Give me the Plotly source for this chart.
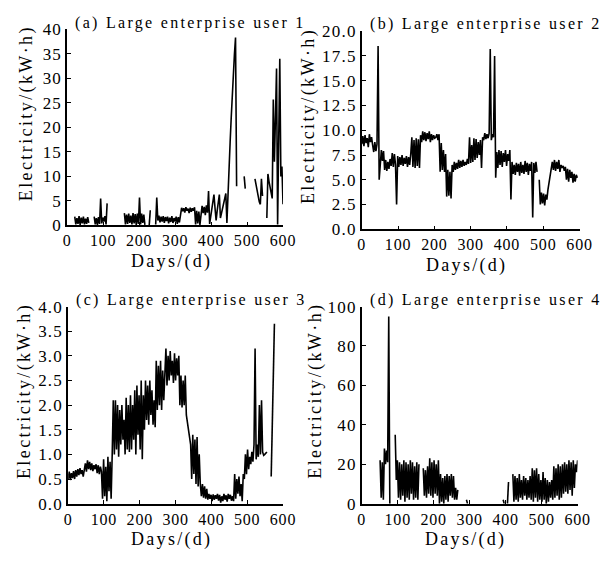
import plotly.graph_objects as go

# daily electricity, sampled every 3 days from day 0 to day 600 (None = missing)
DAY_STEP = 3

user1 = [
    None, None, None, None, None, None, None,
    1.8, 0.2, 1.5, 0.3, 1.9, 0.1, 1.6, 0.4, 1.8, 0.2, 1.4, 0.3, 1.7, 0.5,
    None, None, None, None,
    1.8, 0.2, 1.5, 0.1, 1.7, 0.3, 5.5, 0.4, 1.6, 0.8, 1.9, 0.2, 4.5,
    None, None, None, None, None, None, None, None, None, None, None, None, None, None, None,
    2.5, 0.2, 2.2, 0.3, 2.4, 0.5, 2.0, 0.2, 2.5, 0.4, 2.3, 0.1, 2.4, 0.3, 5.7, 0.2, 2.4, 0.5, 2.2, 0.1,
    None, None, None,
    0.0, 3.1,
    None, None, None, None,
    0.2, 5.7,
    1.0, 2.0, 0.6, 1.8, 0.8, 1.9, 0.5, 1.7, 0.9, 1.8, 0.4, 1.6, 0.7, 1.9, 0.5, 1.5, 0.8, 1.8, 0.3, 1.7, 0.6,
    2.7, 3.6, 2.9, 3.5, 2.6, 3.7, 3.0, 3.4, 2.5, 3.6, 2.8, 3.5, 3.0, 3.7,
    0.2, 3.0, 0.4, 2.8, 0.1,
    2.2, 4.0, 2.5, 3.8, 2.1, 4.1, 2.6, 7.0,
    0.3, 2.0, 3.5, 5.0, 6.3, 3.5, 1.0, 3.0, 5.0, 6.3, 1.5, 2.5, 3.8, 4.8, 5.8, 6.5, 0.5,
    7.5, 12.0, 17.0, 22.0, 27.0, 31.0, 35.0, 38.3, 8.0,
    None, None, None, None, None, None,
    10.0, 7.5,
    None, None, None, None, None, None, None, None,
    9.5, 8.2, 7.0, 5.8, 4.8, 4.3, 9.5, 6.0,
    None, None, None,
    1.5, 10.5, 9.0, 7.5, 6.5, 5.5, 25.7, 13.0, 22.0, 32.0, 0.2, 20.0, 34.0, 10.0, 12.0, 4.3,
]

user2 = [
    8.6, 9.4, 8.4, 9.5, 8.7, 9.2, 8.3, 9.6, 8.8, 9.3, 8.5,
    7.8, 8.8, 7.9, 8.6,
    18.5, 5.0,
    7.2, 8.0, 6.9, 7.9,
    6.0, 7.0, 5.9, 6.8, 6.1, 7.1,
    6.4, 7.7, 6.3, 7.6, 6.5,
    2.5,
    7.4, 6.3, 7.3, 6.5, 7.5, 6.4, 7.2, 6.6, 7.4, 6.3, 7.3, 6.5, 7.6,
    9.3, 6.3, 9.0, 6.2, 9.2, 6.4, 9.1,
    6.2,
    9.5, 8.8, 9.9, 9.0, 9.8, 8.9, 9.7, 9.1, 9.9, 8.8, 9.6, 9.0, 9.5, 9.2, 9.3, 9.6, 9.0, 9.6,
    5.8, 8.7, 6.0,
    8.0, 5.8, 7.6,
    3.3, 6.0, 3.4, 5.8, 3.1,
    6.5, 5.8, 6.8, 6.0, 6.7, 6.1, 7.0, 6.2, 6.9, 6.3, 7.0, 6.4, 6.8, 6.5, 7.1, 6.6,
    9.3, 6.7, 8.5, 6.8, 9.2,
    7.0, 9.1, 7.2, 8.8, 7.5, 9.0, 6.2, 9.3,
    9.0, 9.7, 9.1, 9.6, 9.2, 9.7, 18.2, 9.0, 9.6, 9.3,
    17.5, 5.2,
    7.8, 6.2, 8.0, 6.5, 7.9, 6.3, 7.7, 6.8, 8.0, 6.4, 7.6, 6.9, 8.0,
    3.0,
    6.8, 5.6, 6.5, 5.5, 6.7, 5.8, 6.6, 5.4, 6.8, 5.7, 6.5, 5.6, 6.9, 5.8, 6.7, 5.5, 6.6, 5.9, 6.8,
    1.2, 6.7, 5.7, 6.8,
    5.8, None,
    5.0, 2.5, 3.7, 2.6, 3.6, 2.4, 3.5,
    3.0, 4.0, 4.8, 5.6, 6.2, 6.8,
    6.0, 7.0, 5.9, 6.8, 6.1, 7.0, 5.8, 6.5, 6.2, 6.4, 5.9, 6.3,
    5.0, 6.1, 4.8, 6.0, 5.2, 5.8, 4.7, 5.6, 4.8, 5.5, 5.2,
    None, None,
]

user3 = [
    0.50, 0.65, 0.48, 0.62, 0.52, 0.66, 0.50, 0.68, 0.55, 0.70, 0.58, 0.72, 0.60, 0.68, 0.55, 0.75,
    0.82, 0.65, 0.88, 0.70, 0.85, 0.68, 0.82, 0.66, 0.78, 0.70, 0.80,
    0.62, 0.78, 0.60, 0.75, 0.65,
    0.10, 0.90, 0.15, 0.75, 0.05, 0.95, 0.25, 0.85, 0.10,
    1.00, 2.10,
    1.00, 2.10, 1.10, 2.00, 0.95, 1.90, 1.20, 2.00, 1.30, 1.70, 1.00, 2.15, 1.10, 2.00,
    1.05, 2.20, 1.10, 2.00, 1.30, 2.30, 1.00, 2.40, 1.40, 2.20, 1.10, 2.50, 0.90,
    2.20, 1.50, 2.50, 1.70, 2.40, 1.60, 2.50, 1.80, 2.30, 1.60, 2.10, 1.55,
    2.90, 1.90, 2.80, 2.00, 2.90, 1.90, 2.70, 2.10, 2.60,
    3.15, 2.40, 3.00, 2.50, 3.10, 2.60, 2.90, 2.45, 3.05, 2.50, 2.95, 2.60, 3.00,
    2.00, 2.60, 1.95, 2.50, 2.00, 2.60,
    1.80, 1.65, 1.50, 1.35, 1.20,
    0.50, 1.40, 0.60, 1.30, 0.40, 1.35, 0.35, 1.00, 0.40,
    0.15, 0.40, 0.12, 0.35, 0.10, 0.30,
    0.08, 0.20, 0.10, 0.18, 0.05, 0.19, 0.08, 0.17, 0.10, 0.20, 0.06, 0.18,
    0.02, 0.15, 0.05, 0.20, 0.08, 0.17, 0.04, 0.20, 0.10, 0.18, 0.06, 0.15,
    0.05, 0.60, 0.10, 0.50, 0.20, 0.55, 0.15, 0.40, 0.05, 0.60,
    0.50, 1.00, 0.60, 1.10, 0.70, 0.95, 0.80, 1.05, 0.85, 1.20,
    3.15, 0.90,
    1.20, 0.95, 2.00, 1.00, 2.10, 1.05,
    0.98, 1.00, 1.03, 1.05,
    None, None, None,
    0.55, 1.80, 2.90, 3.65,
    None, None, None, None, None, None, None, None,
]

user4 = [
    None, None, None, None, None, None, None, None, None, None, None, None, None, None, None, None, None,
    22, 3, 21, 2,
    28, 20, 27, 21,
    95, 0,
    None, None, None, None,
    35,
    12, 22, 3, 21, 2, 20, 4, 22, 1, 21, 3, 20, 2, 22, 5, 21, 2, 19, 3, 21, 2, 20,
    None, None, None,
    18, 4, 17, 3, 19, 5, 23, 4, 21, 3, 22, 5, 20, 4, 22,
    0, 15, 1, 13, 0, 14, 2, 15, 1, 14,
    4, 15, 3, 14, 2,
    8, 2, 7,
    None, None, None, None, None, None, None,
    2, 0,
    None, None, None, None, None, None, None, None, None, None, None, None, None, None, None, None,
    None, None, None, None, None, None, None, None, None, None, None, None, None, None, None, None,
    2, 0,
    None, None,
    0, 11,
    None, None, None,
    15, 1, 14, 2, 13, 1, 15, 3, 12, 2, 14, 4, 13, 2, 12, 3, 14,
    2, 18, 1, 17, 3, 18, 1, 15, 2, 12, 1, 16, 2, 13, 0, 12, 1, 11, 3, 12,
    2, 19, 3, 18, 4, 20, 2, 19, 3, 20,
    5, 21, 6, 20, 5, 22, 7, 21, 4, 22, 8, 20, 16, 22,
]

titles = [
    "(a) Large enterprise user 1",
    "(b) Large enterprise user 2",
    "(c) Large enterprise user 3",
    "(d) Large enterprise user 4",
]
y_ticks = [
    ["0", "5", "10", "15", "20", "25", "30", "35", "40"],
    ["0.0", "2.5", "5.0", "7.5", "10.0", "12.5", "15.0", "17.5", "20.0"],
    ["0.0", "0.5", "1.0", "1.5", "2.0", "2.5", "3.0", "3.5", "4.0"],
    ["0", "20", "40", "60", "80", "100"],
]
x_ticks = ["0", "100", "200", "300", "400", "500", "600"]
y_label = "Electricity/(kW·h)"
x_label = "Days/(d)"

FONT = "Liberation Serif"
W, H = 611, 561

# pixel boxes of each panel: (left, right, bottom, top), and y-title offset from the axis
boxes = [(65, 287, 224, 21), (368, 592, 228, 23), (66, 287, 512, 308), (368, 590, 512, 308)]
ytitle_gap = [42, 55, 45, 47]

series = [user1, user2, user3, user4]


def spaced(text, px):
    return f'<span style="letter-spacing:{px}px">{text}</span>'


fig = go.Figure()
layout = dict(
    width=W, height=H, margin=dict(l=0, r=0, t=0, b=0),
    paper_bgcolor="white", plot_bgcolor="white", showlegend=False,
    font=dict(family=FONT, size=17, color="black"),
)
annotations = []
for k, (vals, (x0, x1, yb, yt)) in enumerate(zip(series, boxes)):
    n = "" if k == 0 else str(k + 1)
    days = [i * DAY_STEP for i in range(len(vals))]
    fig.add_trace(go.Scatter(
        x=days, y=vals, mode="lines", line=dict(color="black", width=1.6),
        connectgaps=False, xaxis="x" + n, yaxis="y" + n, hoverinfo="skip",
    ))
    yt_vals = [float(t) for t in y_ticks[k]]
    axis_common = dict(
        showline=True, linecolor="black", linewidth=1.5, showgrid=False, zeroline=False,
        ticks="inside", ticklen=4, tickwidth=1.3, tickcolor="black",
        tickfont=dict(family=FONT, size=17, color="black"),
    )
    layout["xaxis" + n] = dict(
        axis_common, domain=[x0 / W, x1 / W], range=[0, 600],
        tickvals=[float(t) for t in x_ticks],
        ticktext=[spaced(t, 0.8) for t in x_ticks], anchor="y" + n,
        tickfont=dict(family=FONT, size=16, color="black"),
    )
    layout["yaxis" + n] = dict(
        axis_common, domain=[1 - yb / H, 1 - yt / H], range=[yt_vals[0], yt_vals[-1]],
        tickvals=yt_vals, ticktext=[spaced(t, 1.2) for t in y_ticks[k]], anchor="x" + n,
    )
    annotations.append(dict(
        text=spaced(titles[k], 2.3),
        xref="paper", yref="paper", x=(x0 + 6) / W, y=1 - (yt - 7) / H,
        xanchor="left", yanchor="middle", showarrow=False,
        font=dict(family=FONT, size=16, color="black"),
    ))
    annotations.append(dict(
        text=spaced(y_label, 2.4),
        xref="paper", yref="paper", x=(x0 - ytitle_gap[k]) / W, y=1 - ((yb + yt) / 2 - 15) / H,
        xanchor="center", yanchor="middle", textangle=-90, showarrow=False,
        font=dict(family=FONT, size=18, color="black"),
    ))
    annotations.append(dict(
        text=spaced(x_label, 2.3),
        xref="paper", yref="paper", x=((x0 + x1) / 2 - 4) / W, y=1 - (yb + 37) / H,
        xanchor="center", yanchor="middle", showarrow=False,
        font=dict(family=FONT, size=18, color="black"),
    ))

layout["annotations"] = annotations
fig.update_layout(**layout)
fig.write_html(
    "out.html",
    config={"displayModeBar": False},
    post_script="document.body.style.margin='0';document.body.style.overflow='hidden';",
)
